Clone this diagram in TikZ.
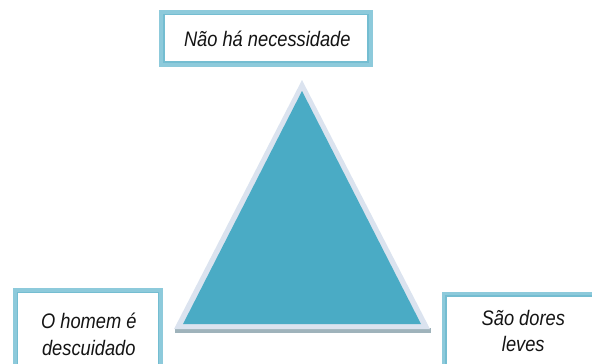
\documentclass[tikz,border=0pt]{standalone}
\usepackage{fontspec}
\newfontfamily\boxfont{Liberation Sans}[FakeStretch=0.87]
\definecolor{bandblue}{HTML}{8DCADB}
\definecolor{lineblue}{HTML}{74BDD1}
\definecolor{tealfill}{HTML}{4AABC5}
\definecolor{paleband}{HTML}{DBE3EF}
\definecolor{shadowgrey}{HTML}{9FB3BB}
\definecolor{txtcol}{HTML}{141414}
\tikzset{
  boxframe/.style={draw=bandblue,line width=5pt,fill=white,inner sep=0pt,rectangle},
  innerline/.style={draw=lineblue,line width=1.8pt},
  lbl/.style={anchor=base,inner sep=0pt,text=txtcol,font=\boxfont\itshape\fontsize{21}{27}\selectfont}
}
\begin{document}
\begin{tikzpicture}[x=1pt,y=-1pt]
\useasboundingbox (0,0) rectangle (592,364);
\clip (0,0) rectangle (592,364);
% triangle
\draw[fill=shadowgrey,draw=none] (175,328) rectangle (431,333);
\fill[paleband] (174,329) -- (302,80) -- (430,329) -- cycle;
\fill[tealfill] (183,324) -- (302,91) -- (421,324) -- cycle;
% top box
\node[boxframe,minimum width=208.4pt,minimum height=51.7pt] (top) at (266,38.35) {};
\draw[innerline] ([shift={(4.5,4.5)}]top.north west) rectangle ([shift={(-4.5,-4.5)}]top.south east);
\node[lbl] (toptext) at (267.3,46.7) {Não há necessidade};
% left box
\node[boxframe,minimum width=145pt,minimum height=109pt] (left) at (88,345) {};
\draw[innerline] ([shift={(4.5,4.5)}]left.north west) rectangle ([shift={(-4.5,-4.5)}]left.south east);
\node[lbl] (lefta) at (88.8,328.3) {O homem é};
\node[lbl] (leftb) at (88.8,355) {descuidado};
% right box
\node[boxframe,minimum width=157.9pt,minimum height=105.8pt] (right) at (523.15,347.1) {};
\draw[innerline] ([shift={(4.5,4.5)}]right.north west) rectangle ([shift={(-4.5,-4.5)}]right.south east);
\node[lbl] (righta) at (523.3,325) {São dores};
\node[lbl] (rightb) at (523.3,351.7) {leves};
\end{tikzpicture}
\end{document}
